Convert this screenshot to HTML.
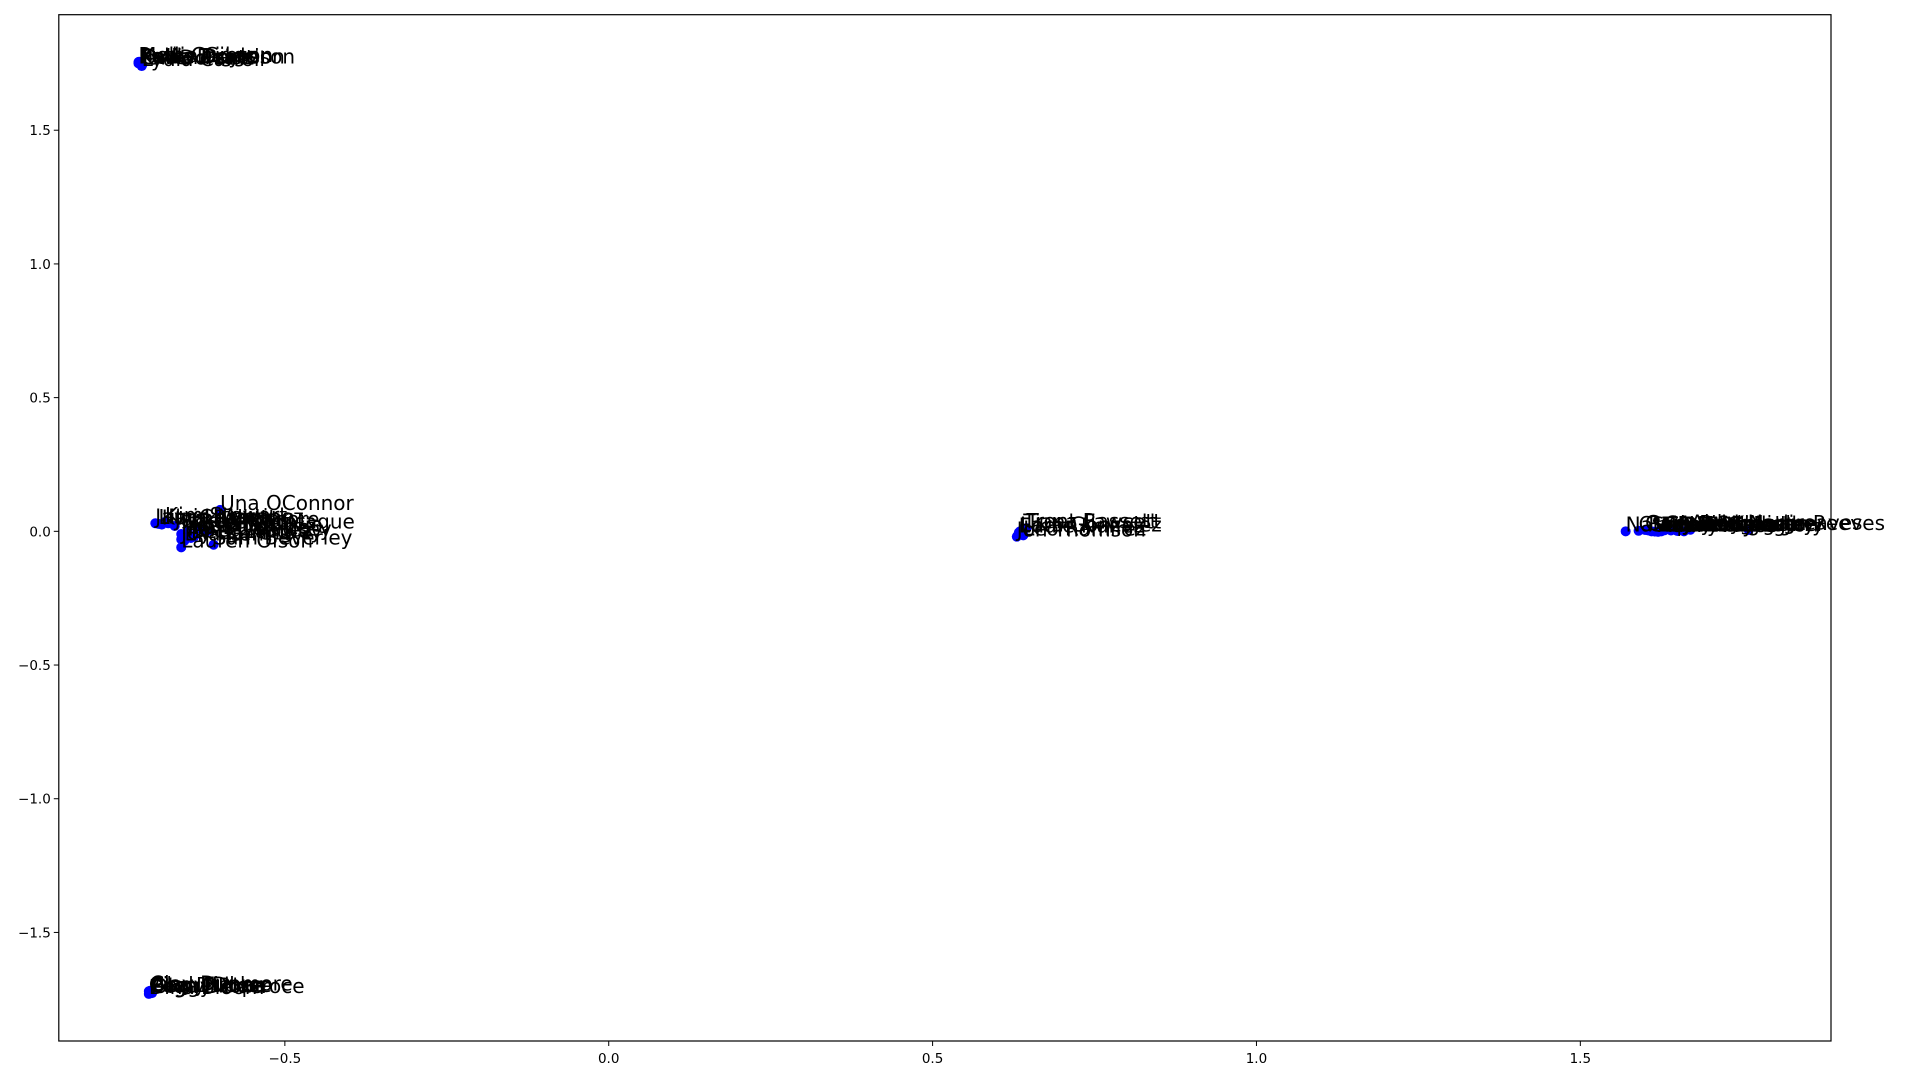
<!DOCTYPE html>
<html><head><meta charset="utf-8"><style>
html,body{margin:0;padding:0;background:#fff;}
svg{display:block;font-family:"DejaVu Sans","Liberation Sans",sans-serif;}
</style></head><body>
<svg id="chart" width="1920" height="1080" viewBox="0 0 1920 1080"></svg>
<script>
const names = ["Hollie Dennison","Katie Deanson","Lydia Carroll","Ruth Griggs","Paula Doyle","Owen Price","Mollie Gibson","Ian Dorsett",
"Una OConnor","Jamie Martinez","Kara Pollett","Mia Burnette","Lauren Olson","Sam Beverley","Tom Hardy","Ivy Lowe","Greg Nunez","Ella Kent","Jack Whitmore","Lily Chapman","Rosa Montague","Beth Langley","Kim Stewart","Joy Barrett","Carl Ogilvie","Fern Dempsey",
"Tiana Fawcett","Lara Gonzalez","Jon Thomson","Leo Ramirez","Trent Bassett","Eddie Nunez",
"Nate Doyle","Gary Bridges","Sophie Hale","Adam Pryce","Maya Kingsley","Rita Cole","Nadia Reeves","Clara Montgomery","Gina Sorensen","Pete Gallagher","Vera Waddell","Abby Hargreaves","Rory Lindqvist","Zoe Pennington",
"Cindy Duke","Peggy Pope","Alan Fisher","Dina Bloom","Clay Dunmore","Bea Dubose","Olga Delacroce"];
const xs = [-0.726,-0.724,-0.721,-0.726,-0.723,-0.722,-0.725,-0.72,
-0.6,-0.7,-0.69,-0.66,-0.66,-0.61,-0.65,-0.68,-0.64,-0.655,-0.67,-0.695,-0.63,-0.645,-0.685,-0.66,-0.62,-0.65,
0.64,0.635,0.63,0.64,0.645,0.633,
1.57,1.60,1.61,1.62,1.64,1.66,1.76,1.59,1.63,1.65,1.615,1.67,1.605,1.625,
-0.71,-0.707,-0.704,-0.71,-0.708,-0.706,-0.705];
const ys = [1.75,1.75,1.74,1.755,1.752,1.748,1.756,1.745,
0.08,0.03,0.025,-0.01,-0.06,-0.05,0.0,0.03,-0.02,-0.035,0.02,0.028,0.01,-0.025,0.035,-0.03,0.0,-0.015,
0.01,0.0,-0.02,-0.015,0.012,-0.005,
0.0,0.005,0.0,-0.002,0.003,0.0,0.005,0.002,0.004,0.001,-0.001,0.006,0.003,0.0,
-1.72,-1.725,-1.72,-1.73,-1.718,-1.722,-1.727];
const xTicks = [-0.5,0.0,0.5,1.0,1.5];
const yTicks = [1.5,1.0,0.5,0.0,-0.5,-1.0,-1.5];

const L=58.8,R=1831,T=14.7,B=1041;
const xMin=-0.849,xMax=1.887,yMin=-1.906,yMax=1.932;
const sx=v=>L+(v-xMin)/(xMax-xMin)*(R-L);
const sy=v=>B-(v-yMin)/(yMax-yMin)*(B-T);
const NS="http://www.w3.org/2000/svg";
const svg=document.getElementById('chart');
function mk(tag,attrs,parent){const e=document.createElementNS(NS,tag);for(const k in attrs)e.setAttribute(k,attrs[k]);(parent||svg).appendChild(e);return e;}

const frame=mk('rect',{x:L,y:T,width:R-L,height:B-T,fill:'none',stroke:'#000','stroke-width':1.2});



xTicks.forEach(v=>{
  const g=mk('g',{});
  
  
  mk('line',{x1:sx(v),x2:sx(v),y1:B,y2:B+5,stroke:'#000','stroke-width':1},g);
  const t=mk('text',{x:sx(v),y:B+22,'font-size':13.5,'text-anchor':'middle',fill:'#000'},g);
  t.textContent=(v<0?'\u2212':'')+Math.abs(v).toFixed(1);
});
yTicks.forEach(v=>{
  const g=mk('g',{});
  
  
  mk('line',{x1:L-5,x2:L,y1:sy(v),y2:sy(v),stroke:'#000','stroke-width':1},g);
  const t=mk('text',{x:L-8,y:sy(v)+5,'font-size':13.5,'text-anchor':'end',fill:'#000'},g);
  t.textContent=(v<0?'\u2212':'')+Math.abs(v).toFixed(1);
});
xs.forEach((x,i)=>{
  const c=mk('circle',{cx:sx(x),cy:sy(ys[i]),r:5,fill:'#0000ff'});
  
  
});
xs.forEach((x,i)=>{
  const t=mk('text',{x:sx(x),y:sy(ys[i]),'font-size':20,fill:'#000'});
  
  
  t.textContent=names[i];
});
</script>
</body></html>
